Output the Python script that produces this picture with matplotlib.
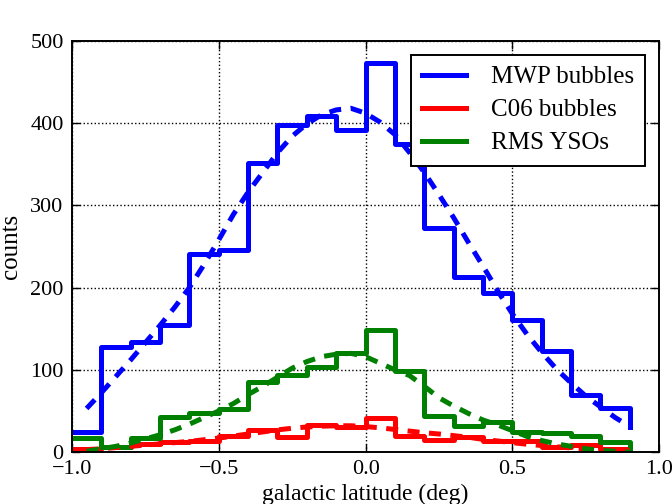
import numpy as np
import matplotlib
matplotlib.use('Agg')
import matplotlib.pyplot as plt

plt.rcParams['font.family'] = ['Liberation Serif', 'DejaVu Serif']
plt.rcParams['mathtext.fontset'] = 'stix'

# bin left edges (galactic latitude, deg)
edges = [-1.0, -0.9, -0.8, -0.7, -0.6, -0.5, -0.4, -0.3, -0.2, -0.1,
         0.0, 0.1, 0.2, 0.3, 0.4, 0.5, 0.6, 0.7, 0.8, 0.9]

mwp_counts = [24, 128, 134, 154, 241, 246, 352, 398, 409, 392,
              473, 374, 273, 213, 193, 161, 123, 69, 54, 30]
c06_counts = [4, 6, 10, 12, 14, 20, 27, 18, 33, 31,
              41, 19, 15, 18, 14, 13, 6, 9, 4, 2]
rms_counts = [17, 6, 17, 43, 47, 52, 85, 94, 104, 121,
              148, 98, 44, 32, 37, 25, 23, 20, 12, 3]

# fitted curves
fit_x = [-0.95, -0.9, -0.85, -0.8, -0.75, -0.7, -0.65, -0.6, -0.55, -0.5,
         -0.45, -0.4, -0.35, -0.3, -0.25, -0.2, -0.15, -0.1, -0.05, 0.0,
         0.05, 0.1, 0.15, 0.2, 0.25, 0.3, 0.35, 0.4, 0.45, 0.5,
         0.55, 0.6, 0.65, 0.7, 0.75, 0.8, 0.85, 0.9]
mwp_fit = [53, 72, 92, 112, 133, 154, 176, 200, 228, 258,
           289, 316, 340, 364, 384, 399, 410, 416, 418, 412,
           401, 386, 364, 340, 313, 285, 255, 226, 196, 168,
           143, 121, 101, 84, 68, 55, 42, 31]
c06_fit = [3, 4, 5.5, 7, 8.5, 10, 11.5, 13, 15, 17,
           19.5, 22, 24.5, 27, 29, 30.5, 31.5, 32, 32, 31,
           29.5, 27.5, 25.5, 23.5, 22, 20, 18, 15.5, 13.5, 11.5,
           9.5, 8, 6.5, 5, 4, 3, 2, 1.5]
rms_fit = [1, 4, 7, 11, 16, 21, 27, 34, 42, 50,
           59, 70, 80, 91, 102, 110, 116, 119, 120, 116,
           108, 100, 93, 80, 66, 56, 47, 39, 33, 26,
           19, 14, 10, 7, 4, 2, 1, 0]

fig = plt.figure(figsize=(6.72, 5.04), dpi=100)
ax = fig.add_axes([0.107, 0.103, 0.874, 0.816])

lw = 3.6
dash = (2.4, 1.9)
ax.plot(edges, mwp_counts, color='b', lw=lw, drawstyle='steps-post', label='MWP bubbles')
ax.plot(edges, c06_counts, color='r', lw=lw, drawstyle='steps-post', label='C06 bubbles')
ax.plot(edges, rms_counts, color='g', lw=lw, drawstyle='steps-post', label='RMS YSOs')
ax.plot(fit_x, mwp_fit, color='b', lw=lw, linestyle=(0, dash))
ax.plot(fit_x, c06_fit, color='r', lw=lw, linestyle=(0, dash))
ax.plot(fit_x, rms_fit, color='g', lw=lw, linestyle=(0, dash))

ax.set_xlim(-1.0, 1.0)
ax.set_ylim(0, 500)
ax.set_xticks([-1.0, -0.5, 0.0, 0.5, 1.0])
ax.set_xticklabels(['\u22121.0', '\u22120.5', '0.0', '0.5', '1.0'])
ax.set_yticks([0, 100, 200, 300, 400, 500])
ax.grid(True, color='k', linestyle=':', lw=1)
ax.tick_params(direction='in', top=True, right=True, length=6, width=1,
               labelsize=16, pad=6)
for s in ax.spines.values():
    s.set_linewidth(1.4)

ax.set_xlabel('galactic latitude (deg)', fontsize=17, labelpad=3)
ax.set_ylabel('counts', fontsize=18, labelpad=6)

leg = ax.legend(loc='upper right', fontsize=18, fancybox=False, framealpha=1,
                edgecolor='k', handlelength=1.75, borderaxespad=0.55,
                labelspacing=0.42, handletextpad=1.0, borderpad=0.45)
leg.get_frame().set_linewidth(1.4)

fig.savefig('out.png', dpi=100)
